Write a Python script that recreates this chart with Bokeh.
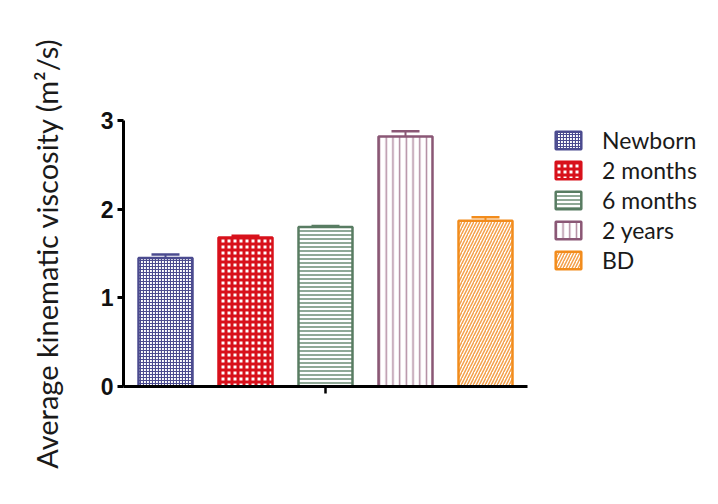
from bokeh.plotting import figure
from bokeh.models import Range1d, FixedTicker, ColumnDataSource, Legend, LegendItem
from bokeh.embed import file_html
from bokeh.resources import INLINE

# ---- data ----
groups = ["Newborn", "2 months", "6 months", "2 years", "BD"]
means = [1.45, 1.68, 1.80, 2.82, 1.87]
sems = [0.04, 0.02, 0.01, 0.06, 0.04]
y_ticks = [0, 1, 2, 3]

# ---- styles ----
line_colors = ["#4b4b8f", "#d8111b", "#587c62", "#8a5775", "#f28c1c"]
hatch_colors = ["#4b4b8f", "#d8111b", "#6a8c74", "#b08aa0", "#f4a04a"]
patterns = ["cross", "cross", "horizontal_line", "vertical_line", "right_diagonal_line"]
hatch_scales = [3, 6, 4, 6.7, 6]
hatch_weights = [1.2, 3, 1.5, 1.5, 1.5]

positions = [i + 1 for i in range(len(groups))]
bar_w = 0.675
cap_half = 0.175

p = figure(width=718, height=504, output_backend="svg", toolbar_location=None,
           x_range=Range1d(0.475, 7.9125), y_range=Range1d(0, 3),
           min_border_left=123, min_border_right=0, min_border_top=120,
           min_border_bottom=118, outline_line_color=None,
           background_fill_color=None, border_fill_color="white")
p.xgrid.visible = False
p.ygrid.visible = False

items = []
for i, g in enumerate(groups):
    src = ColumnDataSource(dict(x=[positions[i]], top=[means[i]]))
    r = p.vbar(x="x", top="top", width=bar_w, source=src,
               fill_color="white", line_color=line_colors[i], line_width=2.5,
               hatch_pattern=patterns[i], hatch_color=hatch_colors[i],
               hatch_scale=hatch_scales[i], hatch_weight=hatch_weights[i])
    items.append(LegendItem(label=g, renderers=[r]))
    err_top = means[i] + sems[i]
    p.segment(x0=[positions[i]], y0=[means[i]], x1=[positions[i]], y1=[err_top],
              line_color=line_colors[i], line_width=2)
    p.segment(x0=[positions[i] - cap_half], y0=[err_top],
              x1=[positions[i] + cap_half], y1=[err_top],
              line_color=line_colors[i], line_width=2.5)

legend = Legend(items=items, location=(429, 112), padding=0, margin=0,
                spacing=2, glyph_width=32, glyph_height=22, label_height=22,
                label_standoff=18,
                border_line_color=None, background_fill_alpha=0,
                label_text_font="Lato", label_text_font_size="23px",
                label_text_color="#1a1a1a", label_text_baseline="middle")
p.add_layout(legend)

# y axis
ya = p.yaxis[0]
ya.ticker = FixedTicker(ticks=y_ticks)
ya.bounds = (0, 3)
ya.axis_line_width = 3
ya.major_tick_line_width = 3
ya.major_tick_out = 6
ya.major_tick_in = 0
ya.minor_tick_line_color = None
ya.major_label_text_font = "Liberation Sans"
ya.major_label_text_font_style = "bold"
ya.major_label_text_font_size = "23px"
ya.major_label_text_color = "#111111"
ya.major_label_standoff = 4
ya.axis_label = "Average kinematic viscosity (m\u00b2/s)"
ya.axis_label_text_font = "Lato"
ya.axis_label_text_font_style = "normal"
ya.axis_label_text_font_size = "29px"
ya.axis_label_text_color = "#1a1a1a"
ya.axis_label_standoff = 34

# x axis
xa = p.xaxis[0]
xa.ticker = FixedTicker(ticks=[3])
xa.bounds = (0.475, 5.525)
xa.axis_line_width = 3
xa.major_tick_line_width = 2.5
xa.major_tick_out = 7
xa.major_tick_in = 0
xa.minor_tick_line_color = None
xa.major_label_text_font_size = "0px"
xa.major_label_overrides = {3: ""}

open("out.html", "w").write(file_html(p, INLINE))
